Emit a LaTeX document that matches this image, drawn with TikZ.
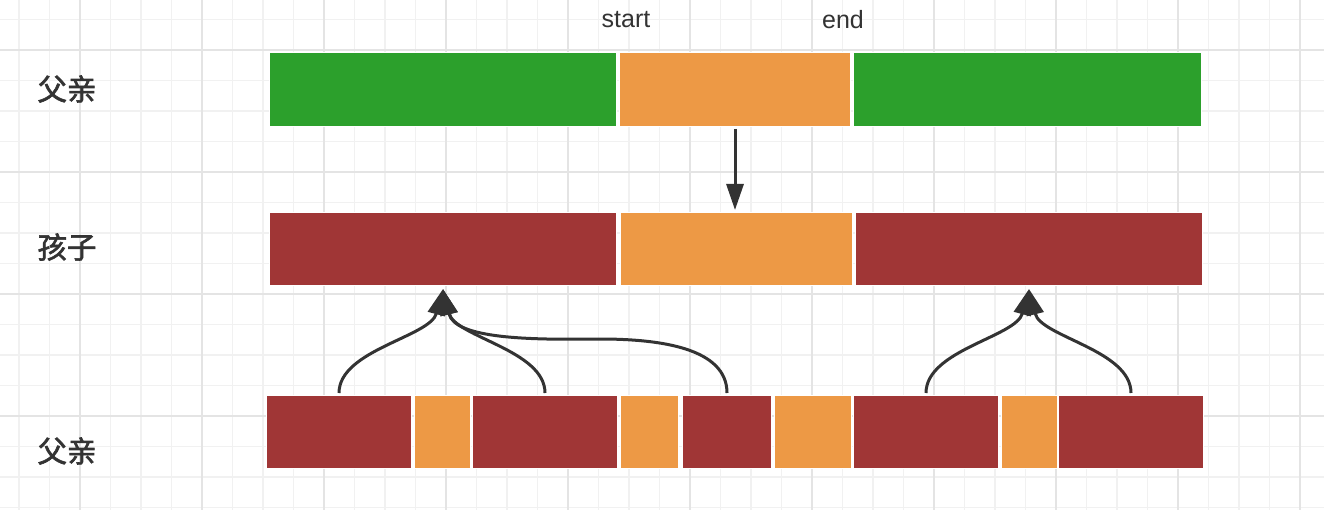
\documentclass[tikz,border=0pt]{standalone}
\usepackage{fontspec}
\setmainfont{Liberation Sans}
\newfontfamily\cjk[AutoFakeBold=2]{Noto Sans CJK SC}
\usepackage{tikz}
\usetikzlibrary{positioning}
\usetikzlibrary{arrows.meta}

\definecolor{segGreen}{RGB}{44,160,44}
\definecolor{segOrange}{RGB}{237,153,69}
\definecolor{segRed}{RGB}{160,54,54}
\definecolor{inkGray}{RGB}{51,51,51}
\definecolor{gridMinor}{RGB}{241,241,241}
\definecolor{gridMajor}{RGB}{228,228,228}

\tikzset{
	seg/.style={rectangle, draw=white, line width=1pt, inner sep=0pt, anchor=north west},
	rowlabel/.style={text=inkGray, font=\cjk\bfseries\fontsize{29.5}{33}\selectfont},
	poslabel/.style={text=inkGray, font=\fontsize{25}{30}\selectfont},
	link/.style={draw=inkGray, line width=3pt, -{Triangle[length=26pt,width=17pt]}},
}

\begin{document}
\begin{tikzpicture}[x=1pt, y=-1pt]
				\useasboundingbox (0,0) rectangle (1324,510);
				\fill[white] (0,0) rectangle (1324,510);
				
				% grid
				\foreach \i in {0,...,42}
					\draw[gridMinor, line width=1.5pt] ({19+30.5*\i},0) -- ({19+30.5*\i},510);
				\foreach \j in {0,...,16}
					\draw[gridMinor, line width=1.5pt] (0,{19.5+30.5*\j}) -- (1324,{19.5+30.5*\j});
				\foreach \i in {0,...,10}
					\draw[gridMajor, line width=1.5pt] ({80+122*\i},0) -- ({80+122*\i},510);
				\foreach \j in {0,...,3}
					\draw[gridMajor, line width=1.5pt] (0,{50+122*\j}) -- (1324,{50+122*\j});
				
				% labels
				\node[rowlabel] (lblTop) at (67,89) {父亲};
				\node[rowlabel] (lblMid) at (67,247) {孩子};
				\node[rowlabel] (lblBot) at (67,451) {父亲};
				\node[poslabel] (lblStart) at (626,20) {start};
				\node[poslabel] (lblEnd) at (843,20) {end};
				
				% parent row
				\node[seg, fill=segGreen, minimum width=347pt, minimum height=74pt] (p1) at (269,52) {};
				\node[seg, fill=segOrange, minimum width=231pt, minimum height=74pt] (p2) at (619,52) {};
				\node[seg, fill=segGreen, minimum width=348pt, minimum height=74pt] (p3) at (853,52) {};
				
				% child row
				\node[seg, fill=segRed, minimum width=347pt, minimum height=73pt] (c1) at (269,212) {};
				\node[seg, fill=segOrange, minimum width=232pt, minimum height=73pt] (c2) at (620,212) {};
				\node[seg, fill=segRed, minimum width=347pt, minimum height=73pt] (c3) at (855,212) {};
				
				% other parent row
				\node[seg, fill=segRed, minimum width=145pt, minimum height=73pt] (f1) at (266,395) {};
				\node[seg, fill=segOrange, minimum width=56pt, minimum height=73pt] (f2) at (414,395) {};
				\node[seg, fill=segRed, minimum width=145pt, minimum height=73pt] (f3) at (472,395) {};
				\node[seg, fill=segOrange, minimum width=58pt, minimum height=73pt] (f4) at (620,395) {};
				\node[seg, fill=segRed, minimum width=89pt, minimum height=73pt] (f5) at (682,395) {};
				\node[seg, fill=segOrange, minimum width=77pt, minimum height=73pt] (f6) at (774,395) {};
				\node[seg, fill=segRed, minimum width=145pt, minimum height=73pt] (f7) at (853,395) {};
				\node[seg, fill=segOrange, minimum width=56pt, minimum height=73pt] (f8) at (1001,395) {};
				\node[seg, fill=segRed, minimum width=145pt, minimum height=73pt] (f9) at (1058,395) {};
				
				% arrow ends
				\coordinate (c1in) at ([yshift=-3pt]c1.south);
				\coordinate (c3in) at ([yshift=-3pt]c3.south);
				\coordinate (bend) at (600,339);
				
				\draw[link, shorten <=2pt, shorten >=2pt]  (p2.south) -- (p2.south |- c2.north);
				\draw[link, shorten <=2pt]  (f1.north) .. controls +(0,-45) and +(-13,48) .. (c1in);
				\draw[link, shorten <=2pt]  (f3.north) .. controls +(0,-45) and +(12,48) .. (c1in);
				\draw[link, shorten <=2pt]  (f5.north) .. controls +(0,-47) and +(60,0) .. (bend) .. controls +(-70,1) and +(12,50) .. (c1in);
				\draw[link, shorten <=2pt]  (f7.north) .. controls +(0,-45) and +(-13,48) .. (c3in);
				\draw[link, shorten <=2pt]  (f9.north) .. controls +(0,-45) and +(12,48) .. (c3in);
			\end{tikzpicture}
\end{document}
